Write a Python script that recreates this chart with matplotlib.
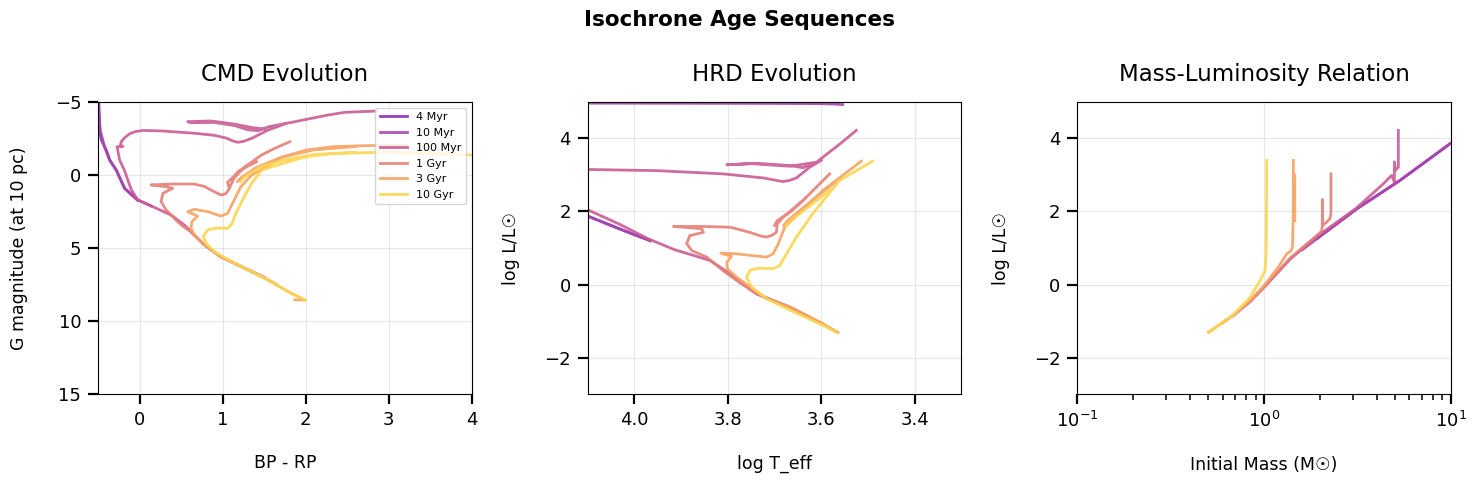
import matplotlib.pyplot as plt
import numpy as np

N = np.nan

ages = ["4 Myr", "10 Myr", "100 Myr", "1 Gyr", "3 Gyr", "10 Gyr"]
colors = ["#8a2db8", "#a845b0", "#c95b95", "#e57f77", "#f6a262", "#fcd54d"]

# --- CMD: (BP-RP, G) ---
cmd_4myr = [(-0.02, 1.75), (-0.18, 0.91), (-0.28, -0.34), (-0.36, -1.03), (-0.40, -1.71),
            (-0.46, -2.4), (-0.48, -3.0), (-0.48, -3.54), (-0.49, -5.0), (-0.50, -6.0)]
cmd_10myr = [(0.14, 2.12), (-0.02, 1.71), (-0.18, 0.91), (-0.28, -0.34), (-0.36, -1.03),
             (-0.42, -1.9), (-0.47, -3.0), (-0.50, -4.5), (-0.52, -6.0)]
cmd_100myr = [(1.50, 7.0), (1.27, 6.39), (0.98, 5.6), (0.78, 4.79), (0.66, 4.11), (0.54, 3.42),
              (0.38, 2.74), (0.14, 2.12), (-0.02, 1.71), (-0.10, 1.0), (-0.18, -0.3),
              (-0.24, -1.03), (-0.27, -1.94), (-0.20, -1.96), (-0.23, -2.05), (-0.22, -2.28),
              (-0.18, -2.55), (-0.12, -2.82), (-0.05, -2.98), (0.05, -3.05), (0.26, -3.02),
              (0.66, -2.86), (0.90, -2.72), (1.05, -2.52), (1.13, -2.32), (1.18, -2.24),
              (1.25, -2.30), (1.35, -2.51), (1.55, -3.08), (1.75, -3.5), (N, N),
              (1.50, -3.15), (1.35, -3.25), (1.14, -3.49), (0.86, -3.70), (0.58, -3.65),
              (0.62, -3.58), (0.90, -3.60), (1.15, -3.38), (1.30, -3.10), (1.43, -3.03),
              (1.55, -3.30), (1.87, -3.65), (2.27, -4.11), (2.47, -4.29), (2.85, -4.38)]
cmd_1gyr = [(1.65, 7.5), (1.55, 7.19), (1.27, 6.39), (0.98, 5.6), (0.78, 4.79), (0.62, 3.9),
            (0.50, 3.42), (0.32, 2.4), (0.26, 1.83), (0.28, 1.26), (0.40, 0.91), (0.32, 0.80),
            (0.14, 0.68), (0.38, 0.62), (0.66, 0.62), (0.78, 0.78), (0.86, 1.03), (0.98, 1.37),
            (1.04, 1.28), (1.08, 0.95), (1.10, 0.68), (1.14, 0.2), (1.27, -0.57), (1.47, -1.37),
            (1.63, -1.83), (1.81, -2.28), (N, N),
            (1.08, 0.9), (1.06, 0.5), (1.10, 0.3), (1.20, -0.3), (1.41, -0.91)]
cmd_3gyr = [(1.87, 8.55), (1.99, 8.56), (1.79, 7.99), (1.55, 7.19), (1.27, 6.39), (0.98, 5.6),
            (0.78, 4.79), (0.66, 4.11), (0.62, 3.65), (0.63, 3.2), (0.70, 2.81), (0.58, 2.51),
            (0.66, 2.35), (0.82, 2.51), (0.98, 2.81), (1.06, 2.63), (1.12, 1.94), (1.22, 0.8),
            (1.35, 0.0), (1.53, -0.57), (1.73, -1.26), (2.01, -1.71), (2.33, -1.94),
            (2.73, -2.01), (3.21, -2.05), (N, N),
            (1.18, 0.45), (1.22, 0.2), (1.40, -0.5), (1.70, -1.2), (2.10, -1.72), (2.60, -1.95)]
cmd_10gyr = [(2.00, 8.6), (1.79, 7.99), (1.55, 7.19), (1.27, 6.39), (1.05, 5.75), (0.90, 5.25),
             (0.80, 4.68), (0.77, 4.18), (0.82, 3.77), (0.92, 3.63), (1.06, 3.65), (1.11, 3.38),
             (1.16, 2.63), (1.25, 1.6), (1.35, 0.57), (1.47, -0.34), (1.73, -0.8), (2.01, -1.26),
             (2.33, -1.48), (2.93, -1.55), (3.50, -1.5), (4.0, -1.37), (4.2, -1.3), (N, N),
             (1.22, 0.45), (1.25, 0.2), (1.45, -0.55), (1.75, -1.05), (2.10, -1.4), (2.60, -1.55)]

# --- HRD: (log Teff, log L) ---
hrd_4myr = [(3.966, 1.2), (4.023, 1.48), (4.097, 1.86), (4.2, 2.35)]
hrd_10myr = [(3.966, 1.2), (4.023, 1.48), (4.097, 1.86), (4.25, 2.6), (N, N),
             (4.2, 4.97), (3.9, 4.965), (3.7, 4.96), (3.6, 4.955), (3.575, 4.945), (3.554, 4.93)]
hrd_100myr = [(3.625, -0.9), (3.667, -0.62), (3.738, -0.26), (3.795, 0.29), (3.838, 0.66),
              (3.913, 0.95), (3.970, 1.25), (4.033, 1.66), (4.097, 2.03), (4.2, 2.45),
              (4.25, 2.9), (4.2, 3.17), (4.097, 3.15), (3.952, 3.12), (3.81, 3.03),
              (3.724, 2.92), (3.695, 2.85), (3.682, 2.82), (3.668, 2.85), (3.653, 2.92),
              (3.625, 3.21), (3.60, 3.40), (N, N),
              (3.62, 3.30), (3.639, 3.2), (3.667, 3.26), (3.738, 3.32), (3.802, 3.28),
              (3.75, 3.31), (3.667, 3.24), (3.61, 3.35), (3.596, 3.49), (3.56, 3.85),
              (3.525, 4.22)]
hrd_1gyr = [(3.596, -1.08), (3.667, -0.62), (3.738, -0.26), (3.781, 0.11), (3.81, 0.38),
            (3.845, 0.75), (3.877, 0.93), (3.888, 1.12), (3.881, 1.34), (3.852, 1.43),
            (3.856, 1.53), (3.916, 1.59), (3.852, 1.59), (3.795, 1.57), (3.753, 1.43),
            (3.730, 1.33), (3.717, 1.30), (3.705, 1.35), (3.696, 1.43), (3.694, 1.66),
            (3.682, 1.84), (3.639, 2.30), (3.582, 3.03), (N, N),
            (3.70, 1.62), (3.694, 1.75), (3.665, 2.0), (3.635, 2.35)]
hrd_3gyr = [(3.564, -1.31), (3.596, -1.08), (3.667, -0.62), (3.717, -0.39), (3.749, -0.1),
            (3.781, 0.2), (3.801, 0.43), (3.802, 0.61), (3.792, 0.77), (3.815, 0.86),
            (3.781, 0.84), (3.738, 0.78), (3.717, 0.75), (3.703, 0.84), (3.692, 1.11),
            (3.678, 1.57), (3.66, 1.80), (3.596, 2.58), (3.514, 3.38), (N, N),
            (3.68, 1.62), (3.672, 1.75), (3.62, 2.3), (3.56, 2.9)]
hrd_10gyr = [(3.568, -1.31), (3.596, -1.12), (3.638, -0.87), (3.667, -0.70), (3.717, -0.39),
             (3.749, -0.07), (3.760, 0.2), (3.751, 0.4), (3.731, 0.45), (3.703, 0.43),
             (3.689, 0.52), (3.674, 0.84), (3.653, 1.30), (3.618, 1.94), (3.561, 2.85),
             (3.490, 3.38), (N, N),
             (3.675, 1.6), (3.668, 1.72), (3.63, 2.1), (3.58, 2.6)]

# --- Mass-luminosity: (initial mass, log L) ---
ml_4myr = [(1.91, 1.25), (3.13, 2.07), (5.33, 2.85), (9.85, 3.85), (12.0, 4.1)]
ml_10myr = [(1.6, 0.95), (1.91, 1.25), (3.13, 2.07), (5.33, 2.85), (9.85, 3.85), (15.0, 4.4)]
ml_100myr = [(0.685, -0.85), (0.842, -0.47), (1.012, -0.05), (1.377, 0.69), (1.913, 1.31),
             (3.13, 2.1), (4.35, 2.76), (4.82, 2.99), (4.98, 2.8), (4.98, 3.36), (5.05, 3.12),
             (5.12, 3.17), (5.23, 3.21), (5.23, 4.22)]
ml_1gyr = [(0.6, -1.05), (0.685, -0.84), (0.842, -0.46), (1.012, -0.04), (1.377, 0.72),
           (1.7, 1.12), (1.913, 1.34), (2.03, 1.46), (2.05, 1.6), (2.05, 2.33), (2.055, 1.62),
           (2.15, 1.7), (2.25, 1.8), (2.28, 1.95), (2.28, 3.03)]
ml_3gyr = [(0.504, -1.31), (0.685, -0.84), (0.842, -0.44), (1.012, 0.0), (1.2, 0.5),
           (1.322, 0.84), (1.40, 0.93), (1.42, 1.05), (1.43, 1.75), (1.435, 3.40), (N, N),
           (1.46, 1.75), (1.46, 3.0)]
ml_10gyr = [(0.504, -1.31), (0.685, -0.83), (0.842, -0.35), (0.952, 0.11), (1.012, 0.38),
            (1.025, 0.84), (1.03, 1.75), (1.033, 3.40)]

cmd = [cmd_4myr, cmd_10myr, cmd_100myr, cmd_1gyr, cmd_3gyr, cmd_10gyr]
hrd = [hrd_4myr, hrd_10myr, hrd_100myr, hrd_1gyr, hrd_3gyr, hrd_10gyr]
ml = [ml_4myr, ml_10myr, ml_100myr, ml_1gyr, ml_3gyr, ml_10gyr]


def draw(ax, tracks):
    for pts, c, lab in zip(tracks, colors, ages):
        a = np.array(pts, dtype=float)
        ax.plot(a[:, 0], a[:, 1], color=c, lw=2, alpha=0.9, label=lab)


fig, axes = plt.subplots(1, 3, figsize=(14.78, 4.88), dpi=100)
fig.subplots_adjust(left=0.0663, right=0.9817, bottom=0.1926, top=0.791, wspace=0.31)

lab_kw = dict(fontsize=12.5)

ax = axes[0]
draw(ax, cmd)
ax.set_xlim(-0.5, 4)
ax.set_ylim(15, -5)
ax.set_xticks([0, 1, 2, 3, 4])
ax.set_yticks([-5, 0, 5, 10, 15])
ax.set_xlabel("BP - RP", labelpad=18.5, **lab_kw)
ax.set_ylabel("G magnitude (at 10 pc)", labelpad=19, **lab_kw)
ax.set_title("CMD Evolution", fontsize=16.5, pad=15)
ax.legend(loc="upper right", fontsize=8, handlelength=2.5)

ax = axes[1]
draw(ax, hrd)
ax.set_xlim(4.1, 3.3)
ax.set_ylim(-3, 5)
ax.set_xticks([4.0, 3.8, 3.6, 3.4])
ax.set_yticks([-2, 0, 2, 4])
ax.set_xlabel("log T_eff", labelpad=18.5, **lab_kw)
ax.set_ylabel("log L/L☉", labelpad=17.5, **lab_kw)
ax.set_title("HRD Evolution", fontsize=16.5, pad=15)

ax = axes[2]
draw(ax, ml)
ax.set_xscale("log")
ax.set_xlim(0.1, 10)
ax.set_ylim(-3, 5)
ax.set_yticks([-2, 0, 2, 4])
ax.set_xlabel("Initial Mass (M☉)", labelpad=18.5, **lab_kw)
ax.set_ylabel("log L/L☉", labelpad=17.5, **lab_kw)
ax.set_title("Mass-Luminosity Relation", fontsize=16.5, pad=15)
ax.tick_params(which="minor", length=4.5, width=1.1)

for ax in axes:
    ax.grid(True, alpha=0.3)
    ax.tick_params(which="major", length=7, width=1.6, labelsize=13, pad=5)

fig.suptitle("Isochrone Age Sequences", fontsize=15.5, fontweight="bold", y=0.98)
fig.savefig("out.png", dpi=100)
